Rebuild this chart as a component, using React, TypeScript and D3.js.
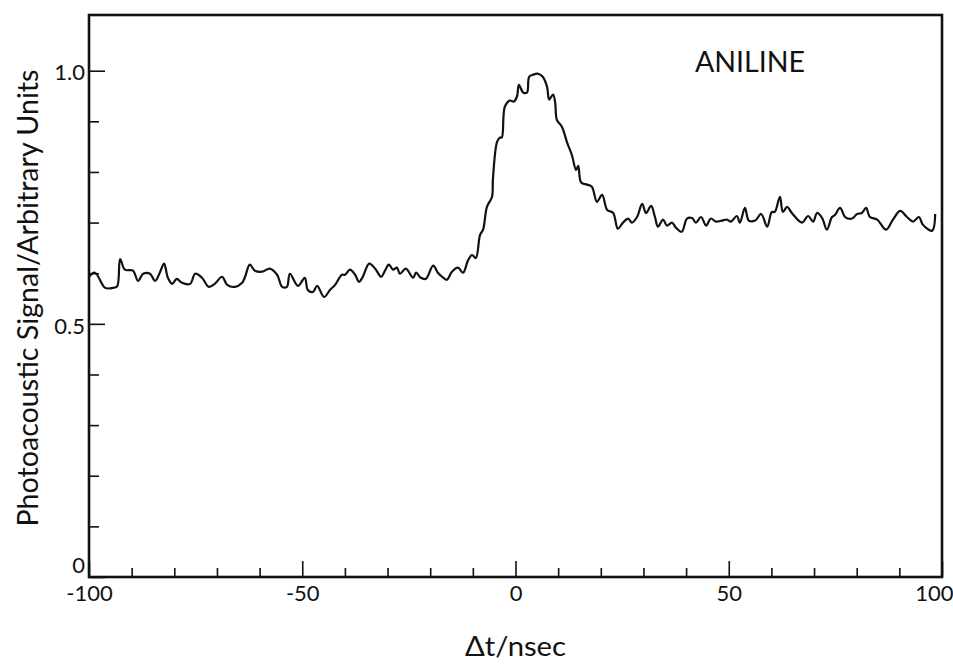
import React, { useEffect, useRef } from "react";
import * as d3 from "d3";
import { select } from "d3";

// delay (ns) and photoacoustic signal
const delayNs = [
  -100, -98.6, -96.2, -94.4, -93.4, -92.7, -91.6, -89.7, -88.5, -87.3, -85.7, -84.5, -83.4, -82.4,
  -81.5, -80.5, -79.4, -78.2, -76.3, -75.1, -73.5, -71.9, -70.5, -68.8, -67.6, -65.8, -64.1, -63.4,
  -62.3, -61.1, -59.4, -57.6, -55.9, -54.7, -53.6, -52.9, -51.0, -49.4, -48.7, -47.5, -46.5, -44.9,
  -43.5, -42.3, -40.7, -40.0, -38.8, -37.6, -36.7, -35.8, -34.3, -32.9, -31.5, -30.6, -29.7, -28.7,
  -27.8, -27.1, -25.7, -24.0, -23.3, -22.2, -21.0, -19.3, -18.2, -17.2, -16.1, -14.9, -13.5, -12.3,
  -11.1, -10.2, -9.3, -8.3, -7.6, -6.7, -5.5, -5.3, -4.3, -3.6, -3.2, -2.5, -1.3, -0.4, 0.35, 0.8,
  1.8, 2.7, 3.2, 4.1, 5.3, 6.4, 7.4, 7.9, 8.8, 9.3, 9.7, 10.9, 12.1, 13.2, 14.2, 14.7, 15.4, 16.8,
  17.9, 19.1, 20.3, 21.5, 22.9, 24.0, 25.2, 26.4, 27.3, 28.5, 29.7, 30.6, 31.8, 32.7, 33.4, 34.6,
  35.5, 36.7, 37.6, 39.0, 40.2, 41.4, 42.3, 43.5, 44.7, 45.8, 47.0, 48.4, 49.6, 50.5, 51.9, 52.6,
  53.8, 54.7, 56.2, 57.6, 59.0, 60.1, 60.8, 62.0, 62.7, 63.7, 64.8, 67.2, 68.6, 69.8, 70.7, 71.9,
  73.0, 74.2, 74.9, 76.1, 77.3, 78.9, 80.1, 81.2, 82.2, 83.1, 84.8, 86.9, 88.5, 90.2, 91.8, 93.2,
  94.6, 95.5, 97.7, 98.4,
];
const signal = [
  0.593, 0.601, 0.571, 0.571, 0.574, 0.628, 0.607, 0.605, 0.585, 0.599, 0.599, 0.585, 0.601, 0.619,
  0.591, 0.579, 0.589, 0.581, 0.579, 0.599, 0.591, 0.573, 0.579, 0.593, 0.577, 0.573, 0.581, 0.593,
  0.617, 0.605, 0.603, 0.609, 0.597, 0.573, 0.573, 0.599, 0.575, 0.591, 0.567, 0.563, 0.575, 0.553,
  0.567, 0.577, 0.597, 0.597, 0.607, 0.597, 0.583, 0.593, 0.619, 0.609, 0.593, 0.605, 0.617, 0.607,
  0.611, 0.599, 0.609, 0.591, 0.601, 0.591, 0.589, 0.615, 0.601, 0.593, 0.587, 0.603, 0.611, 0.601,
  0.626, 0.636, 0.63, 0.676, 0.686, 0.731, 0.751, 0.785, 0.86, 0.868, 0.868, 0.929, 0.941, 0.939, 0.949, 0.972,
  0.957, 0.957, 0.988, 0.992, 0.994, 0.988, 0.968, 0.943, 0.953, 0.937, 0.903, 0.889, 0.858, 0.834, 0.804, 0.812, 0.779, 0.775,
  0.771, 0.741, 0.755, 0.725, 0.719, 0.688, 0.7, 0.708, 0.7, 0.711, 0.737, 0.719, 0.733, 0.711, 0.692, 0.706,
  0.694, 0.7, 0.69, 0.682, 0.708, 0.709, 0.7, 0.711, 0.694, 0.708, 0.702, 0.704, 0.706, 0.702, 0.713, 0.7,
  0.729, 0.704, 0.704, 0.717, 0.692, 0.721, 0.721, 0.751, 0.721, 0.731, 0.719, 0.7, 0.713, 0.702, 0.719, 0.709,
  0.686, 0.711, 0.715, 0.729, 0.711, 0.708, 0.717, 0.719, 0.729, 0.711, 0.706, 0.686, 0.706, 0.723, 0.711, 0.702,
  0.711, 0.696, 0.684, 0.717,
];

const xMajor = [-100, -50, 0, 50, 100];
const xMajorLabels = ["-100", "-50", "0", "50", "100"];
const xMinor = [-90, -80, -70, -60, -40, -30, -20, -10, 10, 20, 30, 40, 60, 70, 80, 90];
const yMajor = [0, 0.5, 1.0];
const yMajorLabels = ["0", "0.5", "1.0"];
const yMinor = [0.1, 0.2, 0.3, 0.4, 0.6, 0.7, 0.8, 0.9];

const FONT = "Lato, 'Open Sans', 'DejaVu Sans', sans-serif";

export default function App() {
  const svgRef = useRef();

  useEffect(() => {
    const svg = select(svgRef.current);
    svg.selectAll("*").remove();

    const width = 953,
      height = 665;
    const margin = { top: 15, right: 11, bottom: 88, left: 89 };

    var x = d3.scaleLinear().domain([-100, 100]).range([margin.left, width - margin.right]);
    var y = d3.scaleLinear().domain([0, 1.11]).range([height - margin.bottom, margin.top]);

    const g = svg.append("g").attr("font-family", FONT);

    // x ticks (inward)
    const xMinorAxis = g
      .append("g")
      .attr("transform", `translate(0, ${y(0)})`)
      .call(d3.axisBottom(x).tickValues(xMinor).tickSize(-9).tickFormat(() => ""));
    xMinorAxis.select(".domain").remove();

    const xMajorAxis = g
      .append("g")
      .attr("transform", `translate(0, ${y(0)})`)
      .call(
        d3
          .axisBottom(x)
          .tickValues(xMajor)
          .tickSize(-16)
          .tickPadding(8)
          .tickFormat((d, i) => xMajorLabels[i])
      );
    xMajorAxis.select(".domain").remove();
    xMajorAxis
      .selectAll("text")
      .attr("font-size", 22)
      .attr("font-family", FONT)
      .attr("fill", "#111")
      .attr("text-anchor", (d) => (d === 100 ? "end" : "middle"))
      .attr("x", (d) => (d === 100 ? 11 : 0));
    xMajorAxis.selectAll("line").attr("stroke", "#111").attr("stroke-width", 1.6);
    xMinorAxis.selectAll("line").attr("stroke", "#111").attr("stroke-width", 1.6);

    // y ticks (inward)
    const yMinorAxis = g
      .append("g")
      .attr("transform", `translate(${x(-100)}, 0)`)
      .call(d3.axisLeft(y).tickValues(yMinor).tickSize(-10).tickFormat(() => ""));
    yMinorAxis.select(".domain").remove();

    const yMajorAxis = g
      .append("g")
      .attr("transform", `translate(${x(-100)}, 0)`)
      .call(
        d3
          .axisLeft(y)
          .tickValues(yMajor)
          .tickSize(-16)
          .tickPadding(4)
          .tickFormat((d, i) => yMajorLabels[i])
      );
    yMajorAxis.select(".domain").remove();
    yMajorAxis
      .selectAll("text")
      .attr("font-size", 22)
      .attr("font-family", FONT)
      .attr("fill", "#111")
      .attr("dy", (d) => (d === 0 ? "-0.2em" : "0.42em"));
    yMajorAxis.selectAll("line").attr("stroke", "#111").attr("stroke-width", 1.6);
    yMinorAxis.selectAll("line").attr("stroke", "#111").attr("stroke-width", 1.6);

    // frame
    g.append("rect")
      .attr("x", x(-100))
      .attr("y", y(1.11))
      .attr("width", x(100) - x(-100))
      .attr("height", y(0) - y(1.11))
      .attr("fill", "none")
      .attr("stroke", "#111")
      .attr("stroke-width", 2.6);

    // trace
    var valueLine = d3
      .line()
      .x((d) => x(d[0]))
      .y((d) => y(d[1]))
      .curve(d3.curveCatmullRom.alpha(0.5));

    g.append("path")
      .datum(delayNs.map((t, i) => [t, signal[i]]))
      .attr("fill", "none")
      .attr("stroke", "#111")
      .attr("stroke-width", 2.2)
      .attr("stroke-linejoin", "round")
      .attr("d", valueLine);

    // labels
    g.append("text")
      .attr("x", 695)
      .attr("y", 72)
      .attr("font-size", 29)
      .attr("textLength", 110)
      .attr("lengthAdjust", "spacingAndGlyphs")
      .attr("fill", "#111")
      .text("ANILINE");

    g.append("text")
      .attr("x", (x(-100) + x(100)) / 2)
      .attr("y", 656)
      .attr("text-anchor", "middle")
      .attr("font-size", 26)
      .attr("textLength", 101)
      .attr("lengthAdjust", "spacingAndGlyphs")
      .attr("fill", "#111")
      .text("Δt/nsec");

    g.append("text")
      .attr("transform", `translate(38, ${(y(0) + y(1.11)) / 2 + 2}) rotate(-90)`)
      .attr("text-anchor", "middle")
      .attr("font-size", 28)
      .attr("textLength", 457)
      .attr("lengthAdjust", "spacingAndGlyphs")
      .attr("fill", "#111")
      .text("Photoacoustic Signal/Arbitrary Units");
  }, []);

  return (
    <div style={{ position: "absolute", left: 0, top: 0, width: 953, height: 665, background: "#fff" }}>
      <svg ref={svgRef} width={953} height={665}></svg>
    </div>
  );
}
